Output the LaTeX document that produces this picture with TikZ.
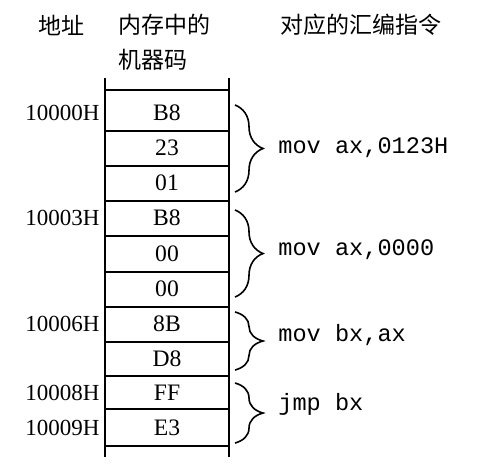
\documentclass[tikz,border=0pt]{standalone}
\usepackage{fontspec}
\setmainfont{Liberation Serif}
\setmonofont{Liberation Mono}
\newfontfamily\cjk{Noto Sans CJK SC}
\usetikzlibrary{positioning,decorations.pathreplacing}

\begin{document}
\begin{tikzpicture}[x=0.5pt, y=-0.5pt,
  byte/.style={font=\fontsize{11.8}{13}\selectfont},
  addr/.style={anchor=east, inner sep=0pt, font=\fontsize{11.5}{13}\selectfont},
  instr/.style={anchor=west, inner sep=0pt, font=\ttfamily\fontsize{11.8}{13}\selectfont},
  head/.style={inner sep=0pt, font=\cjk\fontsize{11.5}{14}\selectfont},
  grp/.style={draw, decorate, decoration={brace, amplitude=14pt}, line width=0.8pt}]
\useasboundingbox (0,0) rectangle (485,471);
%headers
\node[head](addrhead) at (61,25){地址};
\node[head, anchor=west](codehead) at (118,25){内存中的};
\node[head, anchor=west](codehead2) at (118,60){机器码};
\node[head, anchor=west](asmhead) at (280,25){对应的汇编指令};
%memory
\coordinate (tl) at (105,78);
\coordinate (bl) at (105,457);
\coordinate (tr) at (229,78);
\coordinate (br) at (229,457);
\path[draw, line width=1pt](tl)--(bl);
\path[draw, line width=1pt](tr)--(br);
\foreach \y in {90,131,166,201,236,272,307,342,376,409,446}
  \path[draw, line width=0.8pt](105,\y)--(229,\y);
\foreach \y/\b/\n in {113/B8/b0, 148/23/b1, 183/01/b2, 218/B8/b3, 254/00/b4,
  289/00/b5, 324/8B/b6, 359/D8/b7, 393/FF/b8, 428/E3/b9}
  \node[byte](\n) at (167,\y){\b};
%addresses
\node[addr](a0) at (100,113){10000H};
\node[addr](a3) at (100,218){10003H};
\node[addr](a6) at (100,324){10006H};
\node[addr](a8) at (100,393){10008H};
\node[addr](a9) at (100,428){10009H};
%instructions
\path[grp](235,105)--(235,192);
\path[grp](235,210)--(235,297);
\path[grp](235,312)--(235,370);
\path[grp](235,383)--(235,443);
\node[instr](mov1) at (278,148){mov ax,0123H};
\node[instr](mov2) at (278,250){mov ax,0000};
\node[instr](mov3) at (278,335){mov bx,ax};
\node[instr](jmp) at (278,404){jmp bx};
\end{tikzpicture}
\end{document}
